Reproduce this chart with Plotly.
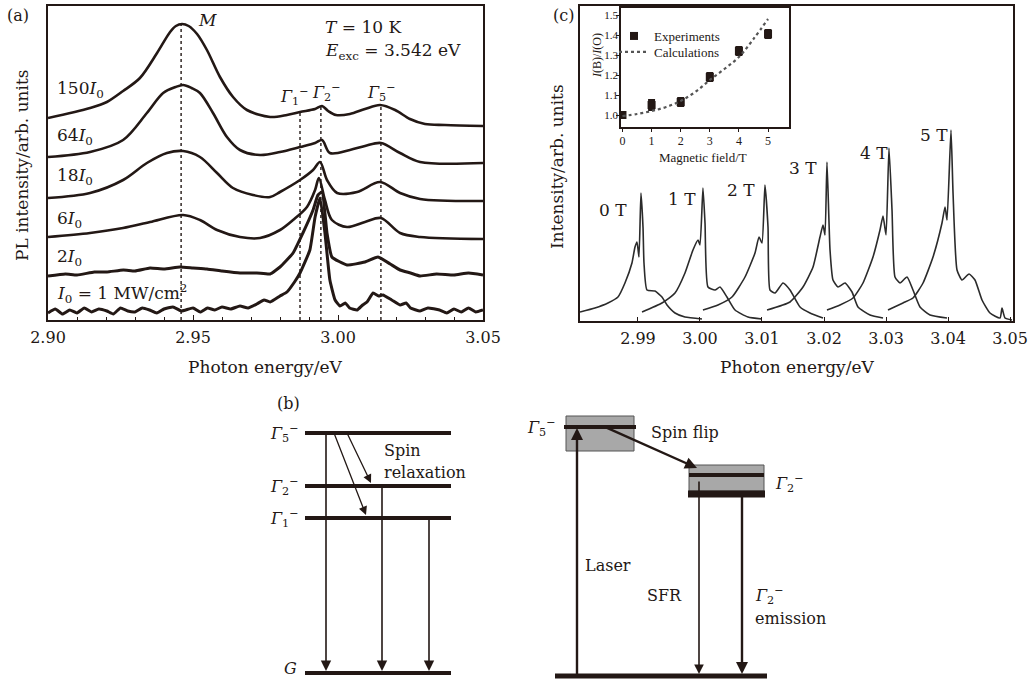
import plotly.graph_objects as go

W, H = 1030, 679
INK = "#231815"
SERIF = "DejaVu Serif"
TIMES = "Liberation Serif"

# ---------------- Panel (a): PL spectra vs excitation power ----------------
A150_E = [2.9000, 2.9145, 2.9203, 2.9259, 2.9317, 2.9376, 2.9421, 2.9441, 2.9462, 2.9485, 2.9514, 2.9548,
          2.9593, 2.9638, 2.9686, 2.9766, 2.9824, 2.9869, 2.9921, 2.9945, 2.9966, 2.9993, 3.0041, 3.0093,
          3.0145, 3.0197, 3.0248, 3.0300, 3.0369, 3.0500]
A150_I = [202, 212, 218, 229, 242, 267, 288, 294, 296, 294, 286, 270, 243, 223, 210, 203, 205, 208, 211,
          214, 209, 205, 206, 211, 215, 210, 201, 196, 195, 194]

A64_E = [2.9000, 2.9145, 2.9259, 2.9341, 2.9397, 2.9440, 2.9466, 2.9495, 2.9524, 2.9569, 2.9617, 2.9662,
         2.9731, 2.9800, 2.9869, 2.9921, 2.9945, 2.9972, 3.0041, 3.0093, 3.0148, 3.0214, 3.0283, 3.0500]
A64_I = [163, 168, 180, 207, 227, 233, 235, 232, 227, 207, 183, 170, 165, 168, 173, 177, 180, 167, 170,
         174, 177, 167, 158, 157]

A18_E = [2.9000, 2.9145, 2.9259, 2.9341, 2.9410, 2.9466, 2.9524, 2.9583, 2.9638, 2.9707, 2.9766, 2.9800,
         2.9869, 2.9914, 2.9938, 2.9962, 2.9997, 3.0066, 3.0145, 3.0214, 3.0283, 3.0500]
A18_I = [122, 127, 140, 157, 167, 169, 163, 147, 132, 125, 123, 128, 140, 150, 158, 140, 127, 128, 138,
         127, 121, 119]

A6_E = [2.9000, 2.9145, 2.9259, 2.9352, 2.9466, 2.9524, 2.9583, 2.9662, 2.9731, 2.9800, 2.9845, 2.9893,
        2.9921, 2.9934, 2.9955, 2.9979, 3.0031, 3.0093, 3.0148, 3.0214, 3.0283, 3.0500]
A6_I = [83, 87, 92, 98, 105, 100, 90, 83, 82, 90, 100, 113, 130, 142, 120, 100, 93, 98, 102, 87, 83, 81]

A2_E = [2.9000, 2.9060, 2.9100, 2.9160, 2.9203, 2.9260, 2.9300, 2.9352, 2.9400, 2.9455, 2.9500, 2.9548,
        2.9600, 2.9662, 2.9720, 2.9766, 2.9800, 2.9845, 2.9879, 2.9914, 2.9931, 2.9945, 2.9962, 2.9979,
        3.0031, 3.0093, 3.0138, 3.0180, 3.0214, 3.0250, 3.0283, 3.0340, 3.0400, 3.0450, 3.0500]
A2_I = [44, 46, 45, 48, 48, 50, 49, 52, 51, 53, 52, 51, 49, 47, 47, 46, 53, 67, 87, 110, 125, 128, 87,
        63, 55, 58, 63, 56, 50, 47, 44, 46, 45, 47, 45]

A1_E = [2.9000, 2.9025, 2.9050, 2.9075, 2.9100, 2.9125, 2.9150, 2.9175, 2.9203, 2.9225, 2.9250, 2.9275,
        2.9300, 2.9325, 2.9350, 2.9375, 2.9400, 2.9431, 2.9460, 2.9500, 2.9525, 2.9550, 2.9575, 2.9600,
        2.9630, 2.9662, 2.9690, 2.9720, 2.9745, 2.9766, 2.9800, 2.9824, 2.9850, 2.9869, 2.9903, 2.9921,
        2.9938, 2.9955, 2.9972, 2.9990, 3.0007, 3.0025, 3.0040, 3.0066, 3.0085, 3.0100, 3.0121, 3.0140,
        3.0155, 3.0185, 3.0214, 3.0235, 3.0250, 3.0283, 3.0310, 3.0350, 3.0375, 3.0400, 3.0425, 3.0450,
        3.0475, 3.0500]
A1_I = [7, 11, 6, 10, 7, 12, 8, 11, 9, 6, 12, 9, 8, 12, 10, 7, 11, 13, 9, 12, 8, 12, 10, 13, 11, 14,
        12, 16, 20, 18, 24, 28, 38, 47, 70, 103, 122, 87, 40, 20, 14, 17, 12, 10, 15, 18, 27, 24, 25, 20,
        15, 17, 12, 9, 12, 10, 7, 11, 8, 12, 8, 10]

A_SERIES = [(A150_E, A150_I), (A64_E, A64_I), (A18_E, A18_I), (A6_E, A6_I), (A2_E, A2_I), (A1_E, A1_I)]
A_LABELS = ["150<i>I</i><sub>0</sub>", "64<i>I</i><sub>0</sub>", "18<i>I</i><sub>0</sub>",
            "6<i>I</i><sub>0</sub>", "2<i>I</i><sub>0</sub>", "<i>I</i><sub>0</sub> = 1 MW/cm<sup>2</sup>"]
A_LABEL_LEVEL = [230, 183, 143, 100, 63, 27]

A_PEAK_E = [2.9459, 2.9869, 2.9941, 3.0148]
A_PEAK_TOP = [298, 207, 216, 214]
A_PEAK_NAMES = ["<i>M</i>", "<i>Γ</i><sub>1</sub><sup>−</sup>", "<i>Γ</i><sub>2</sub><sup>−</sup>",
                "<i>Γ</i><sub>5</sub><sup>−</sup>"]

# ---------------- Panel (c): spin-flip spectra vs magnetic field ----------------
C0_E = [2.98065, 2.98306, 2.98516, 2.98677, 2.98790, 2.98903, 2.98952, 2.98984, 2.99016, 2.99048,
        2.99081, 2.99097, 2.99145, 2.99274, 2.99387, 2.99468, 2.99597, 2.99758, 3.00032]
C0_I = [9, 13, 18, 24, 38, 58, 74, 79, 64, 128, 94, 58, 31, 30, 24, 16, 8, 4, 2]
C1_E = [2.99065, 2.99387, 2.99597, 2.99758, 2.99887, 2.99968, 3.00000, 3.00048, 3.00081, 3.00129,
        3.00242, 3.00323, 3.00435, 3.00565, 3.00774, 3.01000]
C1_I = [9, 18, 28, 48, 71, 81, 76, 133, 98, 34, 31, 34, 24, 11, 4, 2]
C2_E = [3.00048, 3.00290, 3.00516, 3.00726, 3.00887, 3.00952, 3.01000, 3.01048, 3.01097, 3.01129,
        3.01210, 3.01339, 3.01452, 3.01613, 3.01774, 3.01984]
C2_I = [11, 16, 24, 44, 68, 84, 78, 136, 94, 31, 28, 38, 31, 14, 8, 3]
C3_E = [3.01081, 3.01452, 3.01661, 3.01823, 3.01935, 3.01984, 3.02016, 3.02048, 3.02097, 3.02145,
        3.02226, 3.02339, 3.02452, 3.02548, 3.02742, 3.02952]
C3_I = [11, 19, 34, 54, 84, 96, 86, 159, 71, 41, 34, 38, 29, 14, 6, 3]
C4_E = [3.02048, 3.02258, 3.02468, 3.02629, 3.02790, 3.02903, 3.02952, 3.03000, 3.03048, 3.03097,
        3.03145, 3.03226, 3.03339, 3.03435, 3.03548, 3.03710, 3.03984]
C4_I = [11, 16, 23, 38, 64, 91, 105, 86, 173, 111, 44, 38, 44, 31, 14, 6, 3]
C5_E = [3.03032, 3.03274, 3.03435, 3.03597, 3.03758, 3.03903, 3.03952, 3.03984, 3.04048, 3.04081,
        3.04145, 3.04226, 3.04339, 3.04435, 3.04548, 3.04677, 3.04839, 3.04871, 3.04919, 3.05032]
C5_I = [11, 18, 23, 38, 64, 98, 114, 101, 191, 128, 51, 41, 47, 41, 21, 8, 3, 13, 3, 1]

C_SERIES = [(C0_E, C0_I), (C1_E, C1_I), (C2_E, C2_I), (C3_E, C3_I), (C4_E, C4_I), (C5_E, C5_I)]
C_LABELS = ["0 T", "1 T", "2 T", "3 T", "4 T", "5 T"]
C_LABEL_E = [2.98600, 2.99710, 3.00661, 3.01661, 3.02806, 3.03774]
C_LABEL_I = [111, 122, 131, 153, 168, 186]

# Inset
B_FIELD = [0, 1, 2, 3, 4, 5]
RATIO_EXP = [1.00, 1.05, 1.065, 1.19, 1.32, 1.405]
RATIO_ERR = [0.02, 0.03, 0.025, 0.025, 0.025, 0.025]
B_CALC = [0, 0.5, 1, 1.5, 2, 2.5, 3, 3.5, 4, 4.5, 5]
RATIO_CALC = [0.995, 1.005, 1.02, 1.04, 1.07, 1.115, 1.175, 1.23, 1.29, 1.38, 1.48]

# ---------------- Panel (b): level schemes (relative energy units) ----------------
L_NAMES = ["<i>Γ</i><sub>5</sub><sup>−</sup>", "<i>Γ</i><sub>2</sub><sup>−</sup>",
           "<i>Γ</i><sub>1</sub><sup>−</sup>", "<i>G</i>"]
L_ENERGY = [240, 187, 155, 0]
R_G5 = 246
R_G2 = [198, 179]
R_GROUND = -3

fig = go.Figure()

def px_x(p):
    return p / W

def px_y(p):
    return 1 - p / H

# Panel (a) traces
for k, (e, i) in enumerate(A_SERIES):
    fig.add_trace(go.Scatter(x=e, y=i, mode="lines", xaxis="x", yaxis="y",
                             line=dict(color=INK, width=2.6 if k < 4 else 3.0,
                                       shape="spline", smoothing=0.9 if k < 4 else 0.4),
                             showlegend=False, hoverinfo="skip"))
for e, top in zip(A_PEAK_E, A_PEAK_TOP):
    fig.add_trace(go.Scatter(x=[e, e], y=[0, top], mode="lines", xaxis="x", yaxis="y",
                             line=dict(color=INK, width=1.4, dash="dot"),
                             showlegend=False, hoverinfo="skip"))

# Panel (c) traces
for e, i in C_SERIES:
    fig.add_trace(go.Scatter(x=e, y=i, mode="lines", xaxis="x2", yaxis="y2",
                             line=dict(color="#2b2b2b", width=1.6, shape="spline", smoothing=0.5),
                             showlegend=False, hoverinfo="skip"))

# Inset traces
fig.add_trace(go.Scatter(x=B_FIELD, y=RATIO_EXP, mode="markers", xaxis="x3", yaxis="y3",
                         name="Experiments", legend="legend",
                         marker=dict(symbol="square", size=8, color=INK),
                         error_y=dict(type="data", array=RATIO_ERR, color=INK, thickness=7, width=0),
                         showlegend=True, hoverinfo="skip"))
fig.add_trace(go.Scatter(x=B_CALC, y=RATIO_CALC, mode="lines", xaxis="x3", yaxis="y3",
                         name="Calculations", legend="legend2",
                         line=dict(color="#555555", width=2.2, dash="dot", shape="spline"),
                         showlegend=True, hoverinfo="skip"))

# Panel (b) level lines
LX0, LX1 = 305, 451
for en in L_ENERGY:
    fig.add_trace(go.Scatter(x=[LX0, LX1], y=[en, en], mode="lines", xaxis="x4", yaxis="y4",
                             line=dict(color=INK, width=4), showlegend=False, hoverinfo="skip"))
fig.add_trace(go.Scatter(x=[564, 636], y=[R_G5, R_G5], mode="lines", xaxis="x4", yaxis="y4",
                         line=dict(color=INK, width=4), showlegend=False, hoverinfo="skip"))
fig.add_trace(go.Scatter(x=[689, 764], y=[R_G2[0], R_G2[0]], mode="lines", xaxis="x4", yaxis="y4",
                         line=dict(color=INK, width=4), showlegend=False, hoverinfo="skip"))
fig.add_trace(go.Scatter(x=[688, 765], y=[R_G2[1], R_G2[1]], mode="lines", xaxis="x4", yaxis="y4",
                         line=dict(color=INK, width=7), showlegend=False, hoverinfo="skip"))
fig.add_trace(go.Scatter(x=[555, 767], y=[R_GROUND, R_GROUND], mode="lines", xaxis="x4", yaxis="y4",
                         line=dict(color=INK, width=5), showlegend=False, hoverinfo="skip"))

shapes = [
    dict(type="rect", xref="x4", yref="y4", x0=566, x1=634, y0=R_G5 - 24, y1=R_G5 + 11,
         fillcolor="#a8a8a8", line=dict(color="#555555", width=1), layer="below"),
    dict(type="rect", xref="x4", yref="y4", x0=689, x1=764, y0=R_G2[1] + 3, y1=R_G2[0] + 10,
         fillcolor="#a8a8a8", line=dict(color="#555555", width=1), layer="below"),
]

annotations = []

def arrow(x, y, ax, ay, width=1.6, size=1.3):
    annotations.append(dict(x=x, y=y, ax=ax, ay=ay, xref="x4", yref="y4", axref="x4", ayref="y4",
                            text="", showarrow=True, arrowhead=2, arrowsize=size,
                            arrowwidth=width, arrowcolor=INK, standoff=0, startstandoff=0))

# left scheme arrows
arrow(326, L_ENERGY[3] + 2, 326, L_ENERGY[0])
arrow(382, L_ENERGY[3] + 2, 382, L_ENERGY[1])
arrow(429, L_ENERGY[3] + 2, 429, L_ENERGY[2])
arrow(366, L_ENERGY[2] + 3, 334, L_ENERGY[0], width=1.3)
arrow(371, L_ENERGY[1] + 3, 347, L_ENERGY[0], width=1.3)
# right scheme arrows
arrow(577, R_G5 - 1, 577, R_GROUND, width=2.4, size=1.0)
arrow(697, R_G2[0] + 7, 605, R_G5, width=2.4, size=1.0)
arrow(699, R_GROUND + 2, 699, R_G2[0] - 5, width=1.6, size=1.2)
arrow(742, R_GROUND + 2, 742, R_G2[1], width=2.4, size=1.0)

def text(t, x, y, size=16, family=SERIF, xanchor="center", ref="paper", angle=0):
    d = dict(text=t, x=x, y=y, showarrow=False, xanchor=xanchor, yanchor="middle",
             font=dict(family=family, size=size, color=INK), textangle=angle, borderpad=0)
    if ref == "paper":
        d.update(xref="paper", yref="paper")
    else:
        d.update(xref=ref[0], yref=ref[1])
    annotations.append(d)

# Panel labels
text("(a)", px_x(18), px_y(15), 16)
text("(c)", px_x(563), px_y(15), 16)
text("(b)", px_x(288), px_y(403), 16)

# Panel (a) texts
text("<i>T</i> = 10 K", px_x(363), px_y(27), 17)
text("<i>E</i><sub>exc</sub> = 3.542 eV", px_x(393), px_y(52), 17)
text(A_PEAK_NAMES[0], px_x(207), px_y(20), 17)
text(A_PEAK_NAMES[1], px_x(294), px_y(97), 16)
text(A_PEAK_NAMES[2], px_x(326), px_y(93), 16)
text(A_PEAK_NAMES[3], px_x(381), px_y(93), 16)
for lab, lev in zip(A_LABELS, A_LABEL_LEVEL):
    text(lab, 2.9027, lev, 17, xanchor="left", ref=("x", "y"))
text("Photon energy/eV", px_x(265), px_y(367), 17)
text("PL intensity/arb. units", px_x(22), px_y(165), 17, angle=-90)

# Panel (c) texts
for lab, e, i in zip(C_LABELS, C_LABEL_E, C_LABEL_I):
    text(lab, e, i, 17, ref=("x2", "y2"))
text("Photon energy/eV", px_x(797), px_y(367), 17)
text("Intensity/arb. units", px_x(557), px_y(167), 17, angle=-90)
text("Magnetic field/T", px_x(703), px_y(157), 13, family=TIMES)
text("<i>I</i>(B)/<i>I</i>(O)", px_x(597), px_y(56), 12, family=TIMES, angle=-90)

# Panel (b) texts
for name, en in zip(L_NAMES[:3], L_ENERGY[:3]):
    text(name, 300, en, 16, xanchor="right", ref=("x4", "y4"))
text(L_NAMES[3], 290, L_ENERGY[3] + 5, 16, ref=("x4", "y4"))
text("Spin", 383, L_ENERGY[0] - 17, 16, xanchor="left", ref=("x4", "y4"))
text("relaxation", 383, L_ENERGY[0] - 39, 16, xanchor="left", ref=("x4", "y4"))
text(L_NAMES[0], 557, R_G5, 16, xanchor="right", ref=("x4", "y4"))
text("Spin flip", 650, R_G5 - 5, 16, xanchor="left", ref=("x4", "y4"))
text(L_NAMES[1], 774, R_G2[0] - 8, 16, xanchor="left", ref=("x4", "y4"))
text("Laser", 584, 108, 16, xanchor="left", ref=("x4", "y4"))
text("SFR", 646, 78, 16, xanchor="left", ref=("x4", "y4"))
text(L_NAMES[1], 754, 78, 16, xanchor="left", ref=("x4", "y4"))
text("emission", 754, 55, 16, xanchor="left", ref=("x4", "y4"))

tickfont = dict(family=SERIF, size=16, color=INK)
box = dict(showline=True, mirror=True, linecolor=INK, linewidth=1.5, showgrid=False, zeroline=False,
           automargin=False)
leg = dict(xanchor="left", yanchor="top", bgcolor="rgba(0,0,0,0)",
           font=dict(family=TIMES, size=13, color=INK), itemwidth=30, tracegroupgap=0)

fig.update_layout(
    width=W, height=H, autosize=False,
    margin=dict(l=0, r=0, t=0, b=0, pad=0),
    paper_bgcolor="white", plot_bgcolor="rgba(0,0,0,0)",
    xaxis=dict(domain=[px_x(48), px_x(483)], range=[2.90, 3.05], anchor="y",
               tickvals=[2.90, 2.95, 3.00, 3.05], ticktext=["2.90", "2.95", "3.00", "3.05"],
               ticks="inside", ticklen=5, tickcolor=INK, tickfont=tickfont, ticklabelstandoff=2,
               minor=dict(dtick=0.01, tick0=2.90, ticks="inside", ticklen=3, tickcolor=INK), **box),
    yaxis=dict(domain=[px_y(320), px_y(6)], range=[0, 314], anchor="x",
               showticklabels=False, ticks="", **box),
    xaxis2=dict(domain=[px_x(580), px_x(1013)], range=[2.98065, 3.05048], anchor="y2",
                tickvals=[2.99, 3.00, 3.01, 3.02, 3.03, 3.04, 3.05],
                ticktext=["2.99", "3.00", "3.01", "3.02", "3.03", "3.04", "3.05"],
                ticks="inside", ticklen=4, tickcolor=INK, tickfont=tickfont, ticklabelstandoff=2, **box),
    yaxis2=dict(domain=[px_y(321), px_y(6)], range=[0, 315], anchor="x2",
                showticklabels=False, ticks="", **box),
    xaxis3=dict(domain=[px_x(621), px_x(789)], range=[-0.05, 5.72], anchor="y3",
                tickvals=B_FIELD, ticks="outside", ticklen=3, tickcolor=INK, ticklabelstandoff=-1,
                tickfont=dict(family=TIMES, size=12, color=INK), **box),
    yaxis3=dict(domain=[px_y(127), px_y(8)], range=[0.94, 1.535], anchor="x3",
                tickvals=[1.0, 1.1, 1.2, 1.3, 1.4, 1.5], ticktext=["1.0", "1.1", "1.2", "1.3", "1.4", "1.5"],
                ticks="outside", ticklen=3, tickcolor=INK, ticklabelstandoff=-4,
                tickfont=dict(family=TIMES, size=11, color=INK), **box),
    xaxis4=dict(domain=[0, 1], range=[0, W], anchor="y4", visible=False, fixedrange=True, automargin=False),
    yaxis4=dict(domain=[0, 1], range=[-6, 673], anchor="x4", visible=False, fixedrange=True, automargin=False),
    legend=dict(x=px_x(614), y=px_y(21), **leg),
    legend2=dict(x=px_x(614), y=px_y(37), **leg),
    shapes=shapes,
    annotations=annotations,
)

fig.write_html("out.html")
